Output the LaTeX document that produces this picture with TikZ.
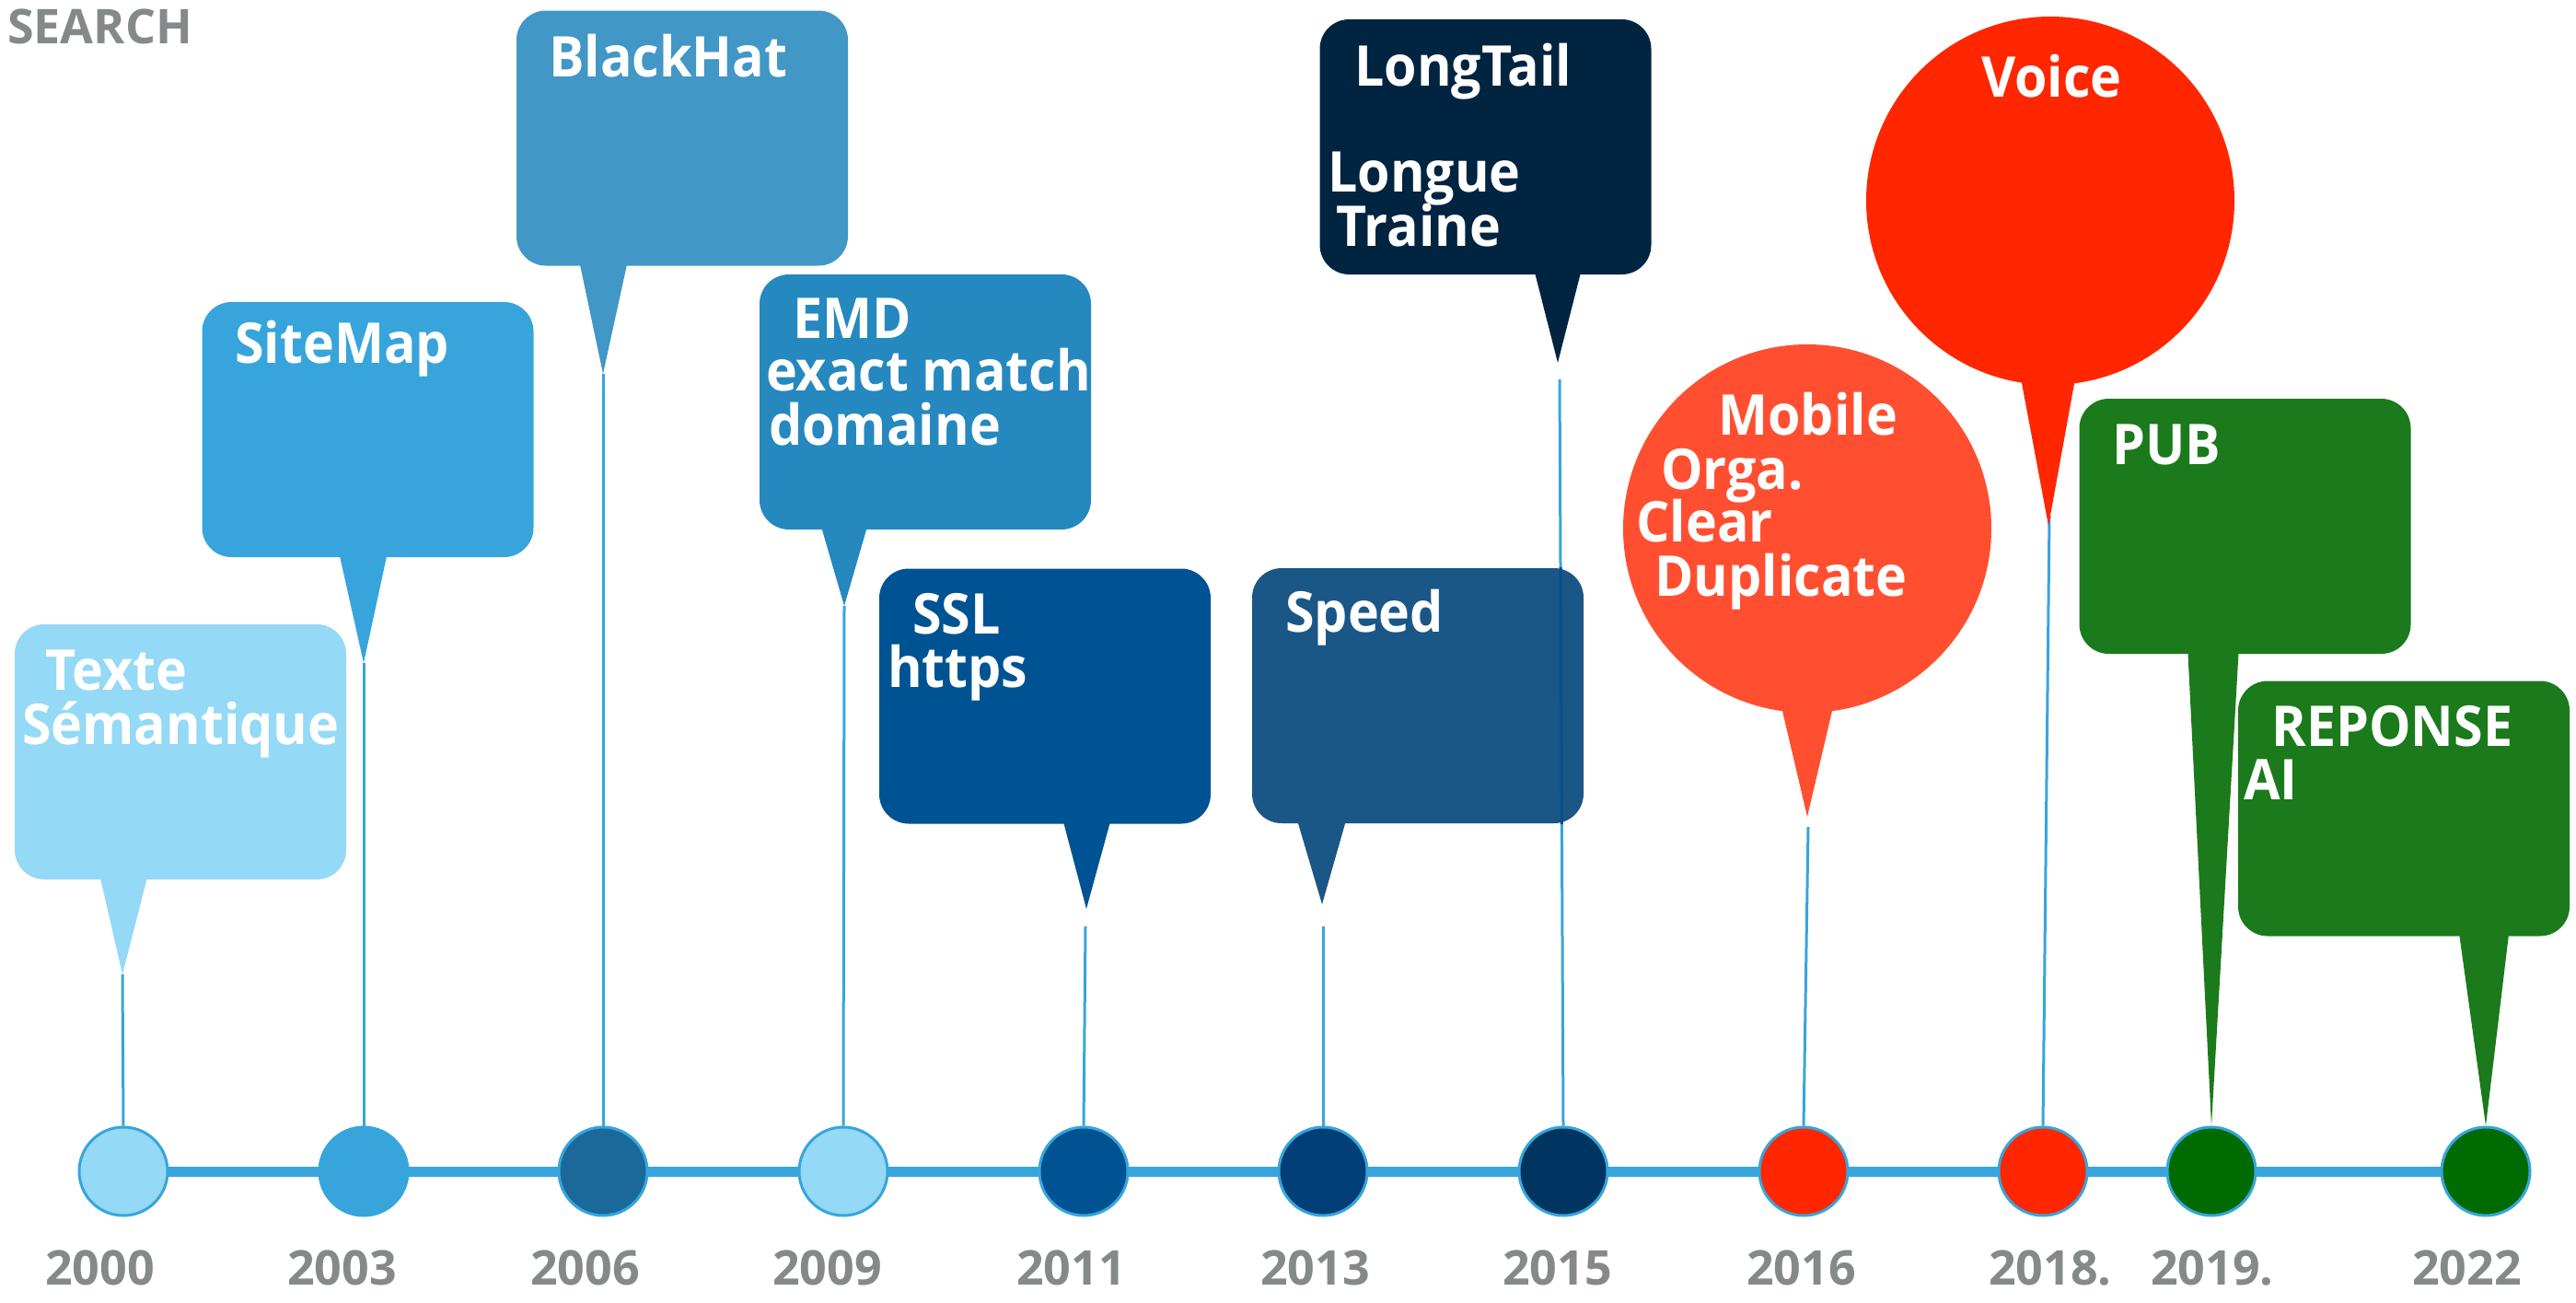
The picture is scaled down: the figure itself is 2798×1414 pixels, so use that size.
\documentclass[tikz,border=0pt]{standalone}
\usepackage{fontspec}
\setmainfont{Open Sans}
\newfontfamily\lblfont{Open Sans}[FakeStretch=0.94]
\definecolor{lineblue}{HTML}{37A5DC}
\definecolor{lightblue}{HTML}{94D9F5}
\definecolor{sitemapc}{HTML}{37A5DC}
\definecolor{blackhatc}{HTML}{4197C5}
\definecolor{emdc}{HTML}{2588BF}
\definecolor{sslc}{HTML}{005393}
\definecolor{speedc}{HTML}{1A5686}
\definecolor{longtailc}{HTML}{012440}
\definecolor{mobilec}{HTML}{FF4F30}
\definecolor{voicec}{HTML}{FF2600}
\definecolor{greenbox}{HTML}{1B7A1B}
\definecolor{c06}{HTML}{1B689B}
\definecolor{c11}{HTML}{005292}
\definecolor{c13}{HTML}{003F78}
\definecolor{c15}{HTML}{013561}
\definecolor{cred}{HTML}{FF2600}
\definecolor{cgreen}{HTML}{006B00}
\definecolor{yeargray}{HTML}{86898A}
\definecolor{innerline}{HTML}{0B4E86}
\tikzset{
  conn/.style={draw=lineblue, line width=3pt},
  yc/.style={circle, draw=lineblue, line width=3pt, minimum size=96pt, inner sep=0pt},
  bubble/.style={rounded corners=32pt, minimum width=360pt, minimum height=277pt, inner sep=0pt},
  roundbub/.style={circle, minimum size=400pt, inner sep=0pt},
  lbl/.style={text=white, font=\lblfont\bfseries\fontsize{61}{61}\selectfont, anchor=base west, inner sep=0pt},
  yr/.style={text=yeargray, font=\bfseries\fontsize{52}{52}\selectfont, anchor=base west, inner sep=0pt},
}
\begin{document}
\begin{tikzpicture}[x=1pt,y=-1pt]
\useasboundingbox (0,0) rectangle (2798,1414);
% year circles positions
\coordinate (p2000) at (134,1272);
\coordinate (p2022) at (2700,1272);
% timeline
\draw[draw=lineblue, line width=11pt] (p2000) -- (p2022);
\node[yc, fill=lightblue] (c2000) at (134,1272) {};
\node[yc, fill=sitemapc] (c2003) at (395,1272) {};
\node[yc, fill=c06] (c2006) at (655,1272) {};
\node[yc, fill=lightblue] (c2009) at (916,1272) {};
\node[yc, fill=c11] (c2011) at (1177,1272) {};
\node[yc, fill=c13] (c2013) at (1437,1272) {};
\node[yc, fill=c15] (c2015) at (1698,1272) {};
\node[yc, fill=cred] (c2016) at (1959,1272) {};
\node[yc, fill=cred] (c2018) at (2219,1272) {};
\node[yc, fill=cgreen] (c2019) at (2402,1272) {};
\node[yc, fill=cgreen] (c2022) at (2700,1272) {};
% connector start points
\coordinate (s2000) at (133,1058);
\coordinate (s2003) at (395,720);
\coordinate (s2006) at (655,406);
\coordinate (s2009) at (917,658);
\coordinate (s2011) at (1179,1006);
\coordinate (s2013) at (1437,1006);
\coordinate (s2015) at (1694,412);
\coordinate (s2016) at (1964,898);
\coordinate (s2018) at (2226,560);
\draw[conn] (s2000) -- (c2000.north);
\draw[conn] (s2003) -- (c2003.north);
\draw[conn] (s2006) -- (c2006.north);
\draw[conn] (s2009) -- (c2009.north);
\draw[conn] (s2011) -- (c2011.north);
\draw[conn] (s2013) -- (c2013.north);
\draw[conn] (s2015) -- (c2015.north);
\draw[conn] (s2016) -- (c2016.north);
\draw[conn] (s2018) -- (c2018.north);
% callouts
\node[bubble, fill=lightblue] (b2000) at (196,816.5) {};
\fill[lightblue] (107,945) -- (s2000) -- (162,945) -- cycle;
\node[bubble, fill=sitemapc] (b2003) at (399.5,466.5) {};
\fill[sitemapc] (367,595) -- (s2003) -- (422,595) -- cycle;
\node[bubble, fill=blackhatc] (b2006) at (741,150) {};
\fill[blackhatc] (628,278) -- (s2006) -- (683,278) -- cycle;
\node[bubble, fill=emdc] (b2009) at (1005,436.5) {};
\fill[emdc] (890,565) -- (s2009) -- (944,565) -- cycle;
\node[bubble, fill=sslc] (b2011) at (1135,756) {};
\coordinate (t2011) at (1180,987);
\fill[sslc] (1153,885) -- (t2011) -- (1208,885) -- cycle;
\node[bubble, fill=speedc] (b2013) at (1540,755.5) {};
\coordinate (t2013) at (1436,982);
\fill[speedc] (1407,884) -- (t2013) -- (1464,884) -- cycle;
\begin{scope}
\clip (b2013.south west) rectangle (b2013.north east);
\draw[draw=innerline, line width=3pt] (s2015) -- (c2015.north);
\end{scope}
\node[bubble, fill=longtailc] (b2015) at (1613.5,159.5) {};
\coordinate (t2015) at (1692,394);
\fill[longtailc] (1665,288) -- (t2015) -- (1719,288) -- cycle;
\node[roundbub, fill=mobilec] (b2016) at (1963,574) {};
\coordinate (t2016) at (1963,887);
\fill[mobilec] (1932,755) -- (t2016) -- (1994,755) -- cycle;
\node[roundbub, fill=voicec] (b2018) at (2227,218) {};
\coordinate (t2018) at (2225,571);
\fill[voicec] (2193,400) -- (t2018) -- (2256,400) -- cycle;
\node[bubble, fill=greenbox] (b2019) at (2438.5,571.5) {};
\fill[greenbox] (2376,700) -- (c2019.north) -- (2432,700) -- cycle;
\node[bubble, fill=greenbox] (b2022) at (2611,878) {};
\fill[greenbox] (2670,1006) -- (c2022.north) -- (2726,1006) -- cycle;
% texts
\node[lbl] (x1) at (49,749) {Texte};
\node[lbl] (x2) at (24,808) {Sémantique};
\node[lbl] (x3) at (255,394) {SiteMap};
\node[lbl] (x4) at (596,83) {BlackHat};
\node[lbl] (x5) at (861,367) {EMD};
\node[lbl] (x6) at (832,424) {exact match};
\node[lbl] (x7) at (835,483) {domaine};
\node[lbl] (x8) at (991,688) {SSL};
\node[lbl] (x9) at (964,746) {https};
\node[lbl] (x10) at (1396,686) {Speed};
\node[lbl] (x11) at (1471,93) {LongTail};
\node[lbl] (x12) at (1442,208) {Longue};
\node[lbl] (x13) at (1451,267) {Traine};
\node[lbl] (x14) at (1866,472) {Mobile};
\node[lbl] (x15) at (1804,531) {Orga.};
\node[lbl] (x16) at (1777,588) {Clear};
\node[lbl] (x17) at (1797,647) {Duplicate};
\node[lbl] (x18) at (2152,105) {Voice};
\node[lbl] (x19) at (2294,504) {PUB};
\node[lbl] (x20) at (2467,810) {REPONSE};
\node[lbl] (x21) at (2437,868) {AI};
% title and years
\node[yr] (title) at (8,47) {SEARCH};
\node[yr] (y2000) at (49,1395) {2000};
\node[yr] (y2003) at (312,1395) {2003};
\node[yr] (y2006) at (576,1395) {2006};
\node[yr] (y2009) at (839,1395) {2009};
\node[yr] (y2011) at (1104,1395) {2011};
\node[yr] (y2013) at (1369,1395) {2013};
\node[yr] (y2015) at (1632,1395) {2015};
\node[yr] (y2016) at (1897,1395) {2016};
\node[yr] (y2018) at (2160,1395) {2018.};
\node[yr] (y2019) at (2336,1395) {2019.};
\node[yr] (y2022) at (2620,1395) {2022};
\end{tikzpicture}
\end{document}
